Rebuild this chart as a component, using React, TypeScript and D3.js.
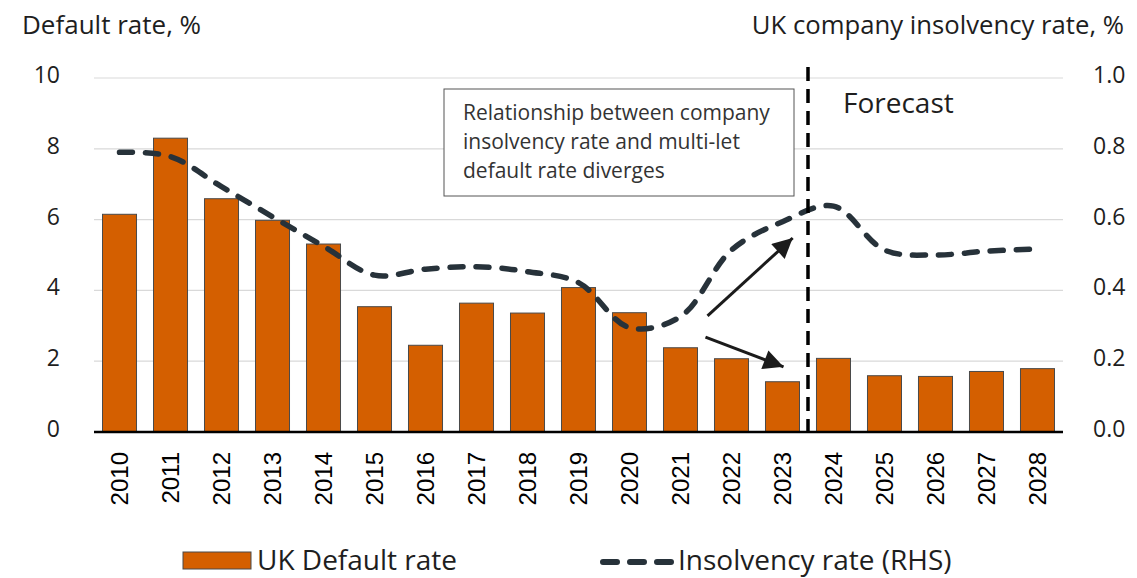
import * as d3 from "d3";

const years = [
  "2010", "2011", "2012", "2013", "2014", "2015", "2016", "2017", "2018", "2019",
  "2020", "2021", "2022", "2023", "2024", "2025", "2026", "2027", "2028",
];
// UK default rate, % (LHS)
const defaultRate = [
  6.15, 8.3, 6.59, 5.98, 5.31, 3.54, 2.45, 3.64, 3.36, 4.08,
  3.37, 2.38, 2.07, 1.42, 2.08, 1.59, 1.57, 1.71, 1.79,
];
// UK company insolvency rate, % (RHS)
const insolvencyRate = [
  0.79, 0.778, 0.693, 0.608, 0.525, 0.443, 0.46, 0.467, 0.453, 0.422,
  0.295, 0.326, 0.514, 0.594, 0.638, 0.514, 0.5, 0.511, 0.517,
];
const leftTicks = [0, 2, 4, 6, 8, 10];
const rightTicks = [0, 0.2, 0.4, 0.6, 0.8, 1.0];
const forecastStart = "2024";
const boxLines = [
  "Relationship between company",
  "insolvency rate and multi-let",
  "default rate diverges",
];
// arrows in data units: [year, offset within step, left-axis value]
const arrowUp = { from: ["2021", 0.53, 3.28], to: ["2023", 0.2, 5.48] } as const;
const arrowDown = { from: ["2021", 0.49, 2.68], to: ["2023", 0.02, 1.84] } as const;

const W = 1137;
const H = 578;
const ORANGE = "#d45f00";
const LINE = "#27323a";
const TEXT = "#1e1e1e";
const FONT = "'Open Sans', 'Noto Sans', sans-serif";

export default function App() {
  const plot = { left: 94, right: 1063, top: 78, bottom: 432 };

  const x = d3.scaleBand<string>()
    .domain(years)
    .range([plot.left, plot.right])
    .paddingInner(0.333)
    .paddingOuter(0.1667);
  const step = x.step();
  const cx = (y: string) => (x(y) ?? 0) + x.bandwidth() / 2;

  const yL = d3.scaleLinear().domain([0, 10]).range([plot.bottom, plot.top]);
  const yR = d3.scaleLinear().domain([0, 1]).range([plot.bottom, plot.top]);

  const line = d3.line<number>()
    .x((_, i) => cx(years[i]))
    .y(d => yR(d))
    .curve(d3.curveCatmullRom.alpha(0.5));

  const forecastX = (x(forecastStart) ?? 0) - (step - x.bandwidth()) / 2;

  const ax = (p: readonly [string, number, number]) => cx(p[0]) + p[1] * step;
  const ay = (p: readonly [string, number, number]) => yL(p[2]);

  return (
    <svg width={W} height={H} style={{ position: "absolute", left: 0, top: 0, background: "#fff" }} fontFamily={FONT}>
      <defs>
        <marker id="head" viewBox="0 0 10 10" refX="10" refY="5" markerWidth="24" markerHeight="20"
          markerUnits="userSpaceOnUse" orient="auto">
          <path d="M0,0 L10,5 L0,10 z" fill="#1b1b1b" />
        </marker>
      </defs>

      {/* gridlines */}
      {leftTicks.filter(t => t > 0).map(t => (
        <line key={t} x1={plot.left} x2={plot.right} y1={yL(t)} y2={yL(t)} stroke="#d9d9d9" strokeWidth={1.2} />
      ))}

      {/* bars */}
      {years.map((yr, i) => (
        <rect key={yr} x={x(yr)} y={yL(defaultRate[i])} width={x.bandwidth()}
          height={yL(0) - yL(defaultRate[i])} fill={ORANGE} stroke="#4a4a4a" strokeWidth={1} />
      ))}

      {/* baseline */}
      <line x1={plot.left} x2={plot.right} y1={yL(0)} y2={yL(0)} stroke="#000" strokeWidth={2.5} />

      {/* insolvency line */}
      <path d={line(insolvencyRate) ?? ""} fill="none" stroke={LINE} strokeWidth={5.5}
        strokeDasharray="13,13" strokeLinecap="round" />

      {/* forecast divider */}
      <line x1={forecastX} x2={forecastX} y1={67} y2={yL(0)} stroke="#000" strokeWidth={3.5} strokeDasharray="14,8" />
      <text x={forecastX + 35} y={113} fontSize={28} fill={TEXT}>Forecast</text>

      {/* annotation box */}
      <rect x={444} y={89} width={350} height={107} fill="#fff" stroke="#555" strokeWidth={1} />
      {boxLines.map((s, i) => (
        <text key={s} x={463} y={120 + i * 29} fontSize={21} fill="#333">{s}</text>
      ))}

      {/* arrows */}
      {[arrowUp, arrowDown].map((a, i) => (
        <line key={i} x1={ax(a.from)} y1={ay(a.from)} x2={ax(a.to)} y2={ay(a.to)}
          stroke="#1b1b1b" strokeWidth={3} markerEnd="url(#head)" />
      ))}

      {/* left axis */}
      {leftTicks.map(t => (
        <text key={t} x={60} y={yL(t) - 4} fontSize={23} fill={TEXT} textAnchor="end" dominantBaseline="central">{t}</text>
      ))}
      {/* right axis */}
      {rightTicks.map(t => (
        <text key={t} x={1093} y={yR(t) - 4} fontSize={23} fill={TEXT} dominantBaseline="central">{t.toFixed(1)}</text>
      ))}

      {/* x labels */}
      {years.map(yr => (
        <text key={yr} transform={`translate(${cx(yr)},452) rotate(-90)`} fontSize={24} fill="#000"
          textAnchor="end" dominantBaseline="central" fontFamily="'Liberation Sans', Arial, sans-serif">{yr}</text>
      ))}

      {/* axis titles */}
      <text x={22} y={34} fontSize={26} fill={TEXT}>Default rate, %</text>
      <text x={1124} y={34} fontSize={25.7} fill={TEXT} textAnchor="end">UK company insolvency rate, %</text>

      {/* legend */}
      <rect x={183} y={552} width={68} height={17} fill={ORANGE} stroke="#4a4a4a" strokeWidth={1} />
      <text x={257} y={570} fontSize={28} fill={TEXT}>UK Default rate</text>
      <line x1={603} x2={671} y1={562} y2={562} stroke={LINE} strokeWidth={6} strokeDasharray="14,13" strokeLinecap="round" />
      <text x={678} y={570} fontSize={28} fill={TEXT}>Insolvency rate (RHS)</text>
    </svg>
  );
}
